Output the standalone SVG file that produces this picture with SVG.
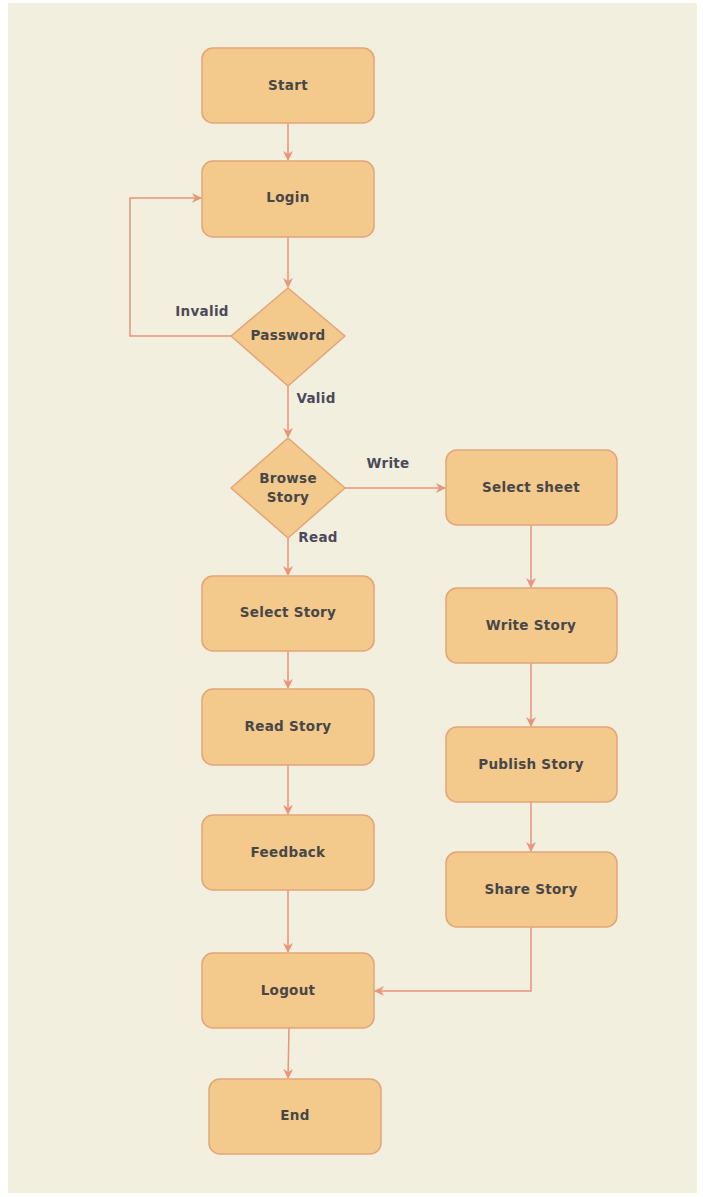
<svg xmlns="http://www.w3.org/2000/svg" width="703" height="1197" viewBox="0 0 703 1197">
<style>
.n{fill:#F4C98C;stroke:#E2A57A;stroke-width:1.5}
.t{font-family:"DejaVu Sans",Verdana,sans-serif;font-weight:bold;font-size:13.5px;letter-spacing:0.3px;fill:#474747;text-anchor:middle;dominant-baseline:central}
.l{font-family:"DejaVu Sans",Verdana,sans-serif;font-weight:bold;font-size:13.5px;letter-spacing:0.3px;fill:#4A4A5A;text-anchor:middle;dominant-baseline:central}
.c{fill:none;stroke:#E8957A;stroke-width:1.5}
</style>
<defs>
<marker id="a" viewBox="0 0 10 10" refX="9" refY="5" markerWidth="10" markerHeight="10" orient="auto" markerUnits="userSpaceOnUse">
<path d="M0,0 L10,5 L0,10 L3,5 Z" fill="#E8957A"/>
</marker>
</defs>
<rect x="0" y="0" width="703" height="1197" fill="#FFFFFF"/>
<rect x="8" y="3" width="689" height="1190" fill="#F3EFDF"/>
<g id="connectors">
<path class="c" d="M288,123 L288,160" marker-end="url(#a)"/>
<path class="c" d="M288,237 L288,287" marker-end="url(#a)"/>
<path class="c" d="M231,336 L130,336 L130,198 L201,198" marker-end="url(#a)"/>
<path class="c" d="M288,386 L288,437" marker-end="url(#a)"/>
<path class="c" d="M345,488 L445,488" marker-end="url(#a)"/>
<path class="c" d="M288,538 L288,575" marker-end="url(#a)"/>
<path class="c" d="M288,651 L288,688" marker-end="url(#a)"/>
<path class="c" d="M288,765 L288,814" marker-end="url(#a)"/>
<path class="c" d="M288,890 L288,952" marker-end="url(#a)"/>
<path class="c" d="M289,1028 L288,1078" marker-end="url(#a)"/>
<path class="c" d="M531,525 L531,587" marker-end="url(#a)"/>
<path class="c" d="M531,663 L531,726" marker-end="url(#a)"/>
<path class="c" d="M531,802 L531,851" marker-end="url(#a)"/>
<path class="c" d="M531,927 L531,991 L375,991" marker-end="url(#a)"/>
<text class="l" x="202" y="311">Invalid</text>
<text class="l" x="316" y="398">Valid</text>
<text class="l" x="388" y="463">Write</text>
<text class="l" x="318" y="537">Read</text>
</g>
<g id="start"><rect class="n" x="202" y="48" width="172" height="75" rx="11"/><text class="t" x="288" y="85">Start</text></g>
<g id="login"><rect class="n" x="202" y="161" width="172" height="76" rx="11"/><text class="t" x="288" y="197">Login</text></g>
<g id="password"><polygon class="n" points="288,288 345,336 288,386 231,336"/><text class="t" x="288" y="335">Password</text></g>
<g id="browse"><polygon class="n" points="288,438 345,488 288,538 231,488"/><text class="t" x="288" y="478">Browse</text><text class="t" x="288" y="497">Story</text></g>
<g id="selectstory"><rect class="n" x="202" y="576" width="172" height="75" rx="11"/><text class="t" x="288" y="612">Select Story</text></g>
<g id="readstory"><rect class="n" x="202" y="689" width="172" height="76" rx="11"/><text class="t" x="288" y="726">Read Story</text></g>
<g id="feedback"><rect class="n" x="202" y="815" width="172" height="75" rx="11"/><text class="t" x="288" y="852">Feedback</text></g>
<g id="logout"><rect class="n" x="202" y="953" width="172" height="75" rx="11"/><text class="t" x="288" y="990">Logout</text></g>
<g id="end"><rect class="n" x="209" y="1079" width="172" height="75" rx="11"/><text class="t" x="295" y="1115">End</text></g>
<g id="selectsheet"><rect class="n" x="446" y="450" width="171" height="75" rx="11"/><text class="t" x="531" y="487">Select sheet</text></g>
<g id="writestory"><rect class="n" x="446" y="588" width="171" height="75" rx="11"/><text class="t" x="531" y="625">Write Story</text></g>
<g id="publishstory"><rect class="n" x="446" y="727" width="171" height="75" rx="11"/><text class="t" x="531" y="764">Publish Story</text></g>
<g id="sharestory"><rect class="n" x="446" y="852" width="171" height="75" rx="11"/><text class="t" x="531" y="889">Share Story</text></g>
</svg>
